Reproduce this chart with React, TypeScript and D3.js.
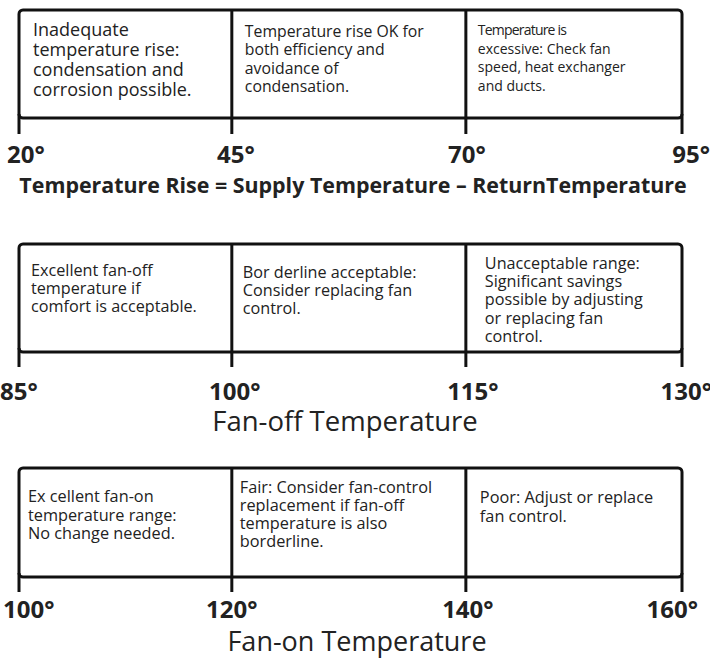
import React from "react";
import * as d3 from "d3";

// ---------- data ----------
const riseTicks = [20, 45, 70, 95];
const riseNotes = [
  ["Inadequate", "temperature rise:", "condensation and", "corrosion possible."],
  ["Temperature rise OK for", "both efficiency and", "avoidance of", "condensation."],
  ["Temperature is", "excessive: Check fan", "speed, heat exchanger", "and ducts."],
];
const riseTitle = "Temperature Rise = Supply Temperature \u2013 ReturnTemperature";

const fanOffTicks = [85, 100, 115, 130];
const fanOffNotes = [
  ["Excellent fan-off", "temperature if", "comfort is acceptable."],
  ["Bor derline acceptable:", "Consider replacing fan", "control."],
  ["Unacceptable range:", "Significant savings", "possible by adjusting", "or replacing fan", "control."],
];
const fanOffTitle = "Fan-off Temperature";

const fanOnTicks = [100, 120, 140, 160];
const fanOnNotes = [
  ["Ex cellent fan-on", "temperature range:", "No change needed."],
  ["Fair: Consider fan-control", "replacement if fan-off", "temperature is also", "borderline."],
  ["Poor: Adjust or replace", "fan control."],
];
const fanOnTitle = "Fan-on Temperature";

// ---------- layout ----------
const W = 710;
const H = 658;
const FONT = "'Open Sans', 'Noto Sans', sans-serif";
const X0 = 19;
const X1 = 682;
const BREAKS = [0, 0.321, 0.674, 1];

type Layout = {
  top: number;
  bottom: number;
  tickBottom: number;
  labelBase: number;
  firstLabelX: number;
  lastLabelX: number;
  innerDx: number[];
  titleBase: number;
  titleSize: number;
  titleWeight: number;
  titleX: number;
  textDx: number[];
  firstBase: number[];
  lineGap: number[];
  size: number[];
};

const layouts: Layout[] = [
  {
    top: 10, bottom: 118, tickBottom: 134, labelBase: 163,
    firstLabelX: 7, lastLabelX: 710, innerDx: [4, 1],
    titleBase: 193, titleSize: 21.4, titleWeight: 700, titleX: 353,
    textDx: [14, 13, 12], firstBase: [36, 37, 35], lineGap: [20, 18.3, 18.5], size: [18, 15.8, 14],
  },
  {
    top: 244, bottom: 352, tickBottom: 367, labelBase: 400,
    firstLabelX: 0, lastLabelX: 712, innerDx: [3, 7],
    titleBase: 431, titleSize: 27.5, titleWeight: 400, titleX: 345,
    textDx: [12, 11, 19], firstBase: [276, 278, 269], lineGap: [18, 18, 18.2], size: [16.2, 16.2, 16.2],
  },
  {
    top: 468, bottom: 577, tickBottom: 592, labelBase: 618,
    firstLabelX: 3, lastLabelX: 698, innerDx: [0, 2],
    titleBase: 651, titleSize: 27, titleWeight: 400, titleX: 357,
    textDx: [9, 8, 14], firstBase: [502, 493, 503], lineGap: [18.5, 18, 19], size: [16.3, 16.3, 16.3],
  },
];

const panels = [
  { ticks: riseTicks, notes: riseNotes, title: riseTitle },
  { ticks: fanOffTicks, notes: fanOffNotes, title: fanOffTitle },
  { ticks: fanOnTicks, notes: fanOnNotes, title: fanOnTitle },
];

function Panel({ ticks, notes, title, L, pi }: any) {
  const x = d3
    .scaleLinear()
    .domain(ticks)
    .range(BREAKS.map((f) => X0 + f * (X1 - X0)));
  const left = x(ticks[0]);
  const right = x(ticks[ticks.length - 1]);
  const sw = 3;
  const n = ticks.length;
  return (
    <g>
      <rect
        x={left}
        y={L.top}
        width={right - left}
        height={L.bottom - L.top}
        rx={4}
        ry={4}
        fill="#fff"
        stroke="#111"
        strokeWidth={sw}
      />
      {ticks.map((t: number, i: number) => (
        <line
          key={"t" + i}
          x1={x(t)}
          x2={x(t)}
          y1={i === 0 || i === n - 1 ? L.bottom - 4 : L.top}
          y2={L.tickBottom}
          stroke="#111"
          strokeWidth={sw}
        />
      ))}
      {notes.map((lines: string[], ci: number) =>
        lines.map((s: string, li: number) => {
          const small = pi === 0 && ci === 2 && li === 0;
          return (
            <text
              key={"n" + ci + "-" + li}
              x={x(ticks[ci]) + L.textDx[ci]}
              y={L.firstBase[ci] + li * L.lineGap[ci]}
              fontFamily={FONT}
              fontSize={small ? 14 : L.size[ci]}
              letterSpacing={small ? -0.8 : 0}
              fill="#222"
            >
              {s}
            </text>
          );
        })
      )}
      {ticks.map((t: number, i: number) => {
        const anchor = i === 0 ? "start" : i === n - 1 ? "end" : "middle";
        const lx = i === 0 ? L.firstLabelX : i === n - 1 ? L.lastLabelX : x(t) + L.innerDx[i - 1];
        return (
          <text
            key={"l" + i}
            x={lx}
            y={L.labelBase}
            textAnchor={anchor}
            fontFamily={FONT}
            fontWeight={700}
            fontSize={24}
            fill="#222"
          >
            {t + "\u00b0"}
          </text>
        );
      })}
      <text
        x={L.titleX}
        y={L.titleBase}
        textAnchor="middle"
        fontFamily={FONT}
        fontWeight={L.titleWeight}
        fontSize={L.titleSize}
        fill="#222"
      >
        {title}
      </text>
    </g>
  );
}

export default function App() {
  return (
    <svg
      width={W}
      height={H}
      viewBox={`0 0 ${W} ${H}`}
      style={{ position: "absolute", left: 0, top: 0, background: "#fff" }}
    >
      <rect width={W} height={H} fill="#fff" />
      {panels.map((p, i) => (
        <Panel key={i} {...p} L={layouts[i]} pi={i} />
      ))}
    </svg>
  );
}
